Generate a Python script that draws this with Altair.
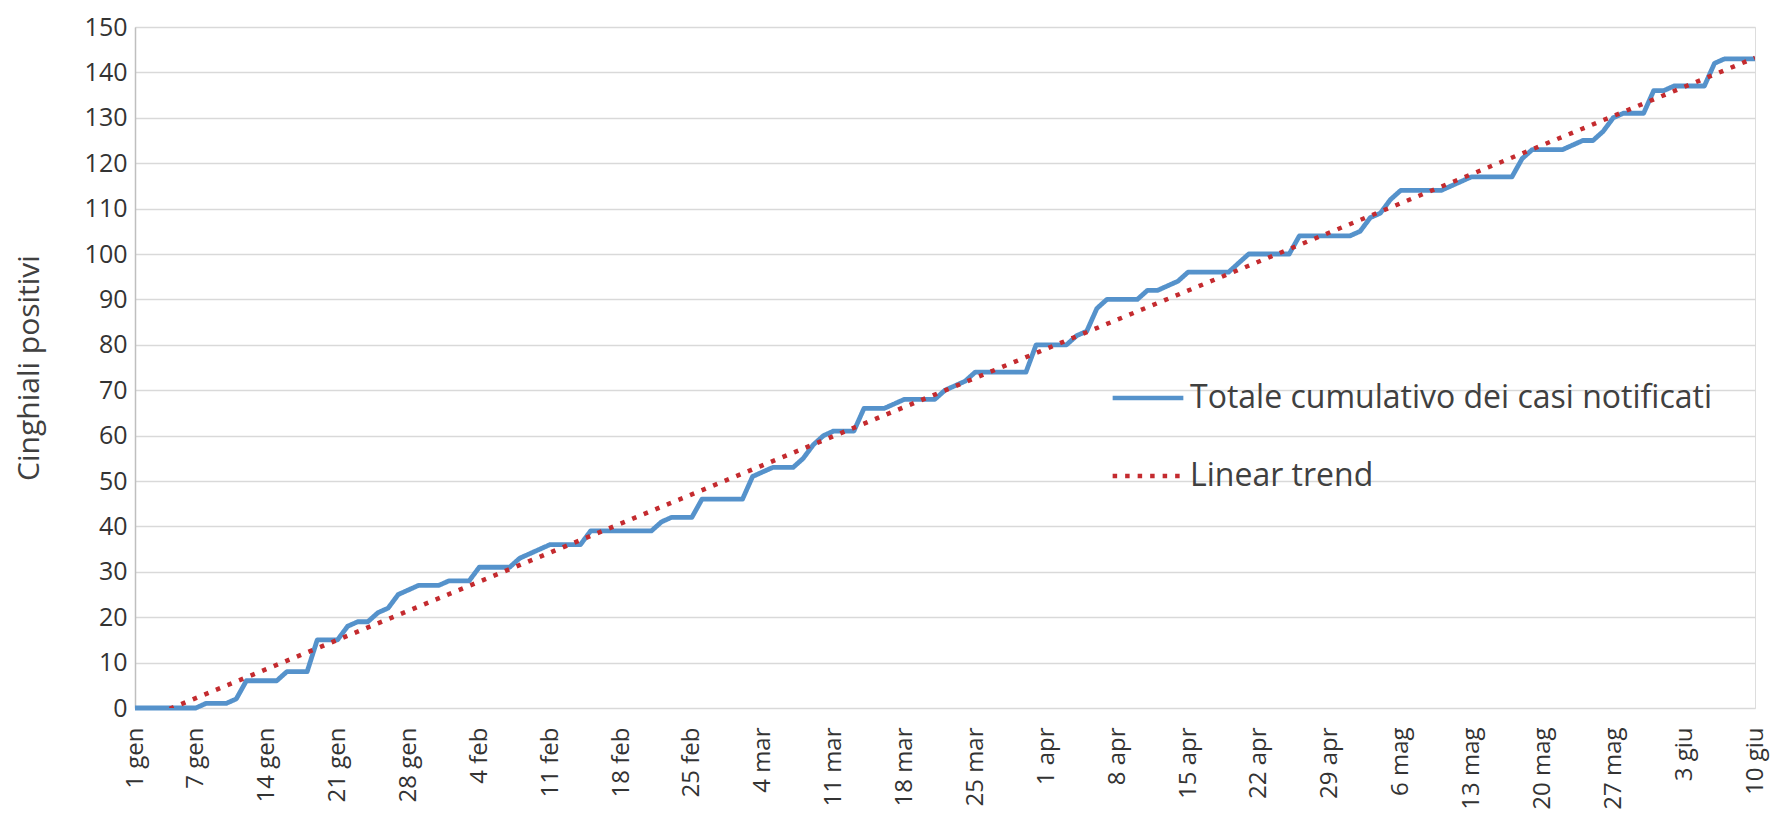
import altair as alt
import pandas as pd

# ---- data ----
START = "2022-01-01"
VALUES = (
    [0, 0, 0, 0, 0, 0, 0]            # 1-7 gen
    + [1, 1, 1, 2]
    + [6, 6, 6, 6]
    + [8, 8, 8]
    + [15, 15, 15]
    + [18, 19, 19, 21, 22, 25, 26]
    + [27, 27, 27, 28, 28, 28]
    + [31, 31, 31, 31, 33, 34, 35]
    + [36, 36, 36, 36]
    + [39, 39, 39, 39, 39, 39, 39]
    + [41, 42, 42, 42]
    + [46, 46, 46, 46, 46]
    + [51, 52, 53, 53, 53, 55, 58, 60]
    + [61, 61, 61, 66, 66, 66, 67]
    + [68, 68, 68, 68, 70, 71, 72]
    + [74, 74, 74, 74, 74, 74]
    + [80, 80, 80, 80, 82, 83, 88]
    + [90, 90, 90, 90, 92, 92, 93, 94]
    + [96, 96, 96, 96, 96, 98]
    + [100, 100, 100, 100, 100]
    + [104, 104, 104, 104, 104, 104]
    + [105, 108, 109, 112]
    + [114, 114, 114, 114, 114, 115, 116]
    + [117, 117, 117, 117, 117, 121]
    + [123, 123, 123, 123, 124, 125, 125, 127, 130]
    + [131, 131, 131, 136, 136]
    + [137, 137, 137, 137, 142]
    + [143, 143, 143, 143]
)
TICK_DATES = [
    "2022-01-01", "2022-01-07", "2022-01-14", "2022-01-21", "2022-01-28",
    "2022-02-04", "2022-02-11", "2022-02-18", "2022-02-25",
    "2022-03-04", "2022-03-11", "2022-03-18", "2022-03-25",
    "2022-04-01", "2022-04-08", "2022-04-15", "2022-04-22", "2022-04-29",
    "2022-05-06", "2022-05-13", "2022-05-20", "2022-05-27",
    "2022-06-03", "2022-06-10",
]
MONTHS = ["gen", "feb", "mar", "apr", "mag", "giu", "lug", "ago", "set", "ott", "nov", "dic"]
Y_TICKS = list(range(0, 151, 10))
SERIES = ["Totale cumulativo dei casi notificati", "Linear trend"]
COLORS = ["#5592cb", "#c42b2f"]

dates = pd.date_range(START, periods=len(VALUES), freq="D").strftime("%Y-%m-%d")
df = pd.DataFrame({"date": dates, "value": VALUES})

tick_ms = [int(pd.Timestamp(d, tz="UTC").value // 10**6) for d in TICK_DATES]
month_js = "[" + ",".join("'%s'" % m for m in MONTHS) + "]"
label_expr = "utcdate(datum.value) + ' ' + " + month_js + "[utcmonth(datum.value)]"

FONT = "Open Sans"

x_enc = alt.X(
    "date:T",
    scale=alt.Scale(type="utc", domain=[tick_ms[0], tick_ms[-1]], nice=False),
    axis=alt.Axis(
        values=tick_ms, labelExpr=label_expr, labelAngle=270,
        labelAlign="right", labelBaseline="middle", labelPadding=19,
        labelFontSize=24, labelColor="#333333", labelFont=FONT,
        grid=False, ticks=False, domain=False, title=None, labelOverlap=False,
    ),
)
y_enc = alt.Y(
    "value:Q",
    scale=alt.Scale(domain=[0, 150], nice=False),
    axis=alt.Axis(
        values=Y_TICKS, labelFontSize=25, labelColor="#333333", labelFont=FONT,
        labelPadding=8, ticks=False, domain=True, domainColor="#bfbfbf",
        domainWidth=1.5, gridColor="#d9d9d9", gridWidth=1.5,
        title="Cinghiali positivi", titleFontSize=30, titleFont=FONT,
        titleFontWeight="normal", titleColor="#404040", titlePadding=40,
    ),
)
color_enc = alt.Color(
    "series:N",
    scale=alt.Scale(domain=SERIES, range=COLORS),
    legend=alt.Legend(
        title=None, orient="none", legendX=975, legendY=333,
        symbolType="stroke", symbolSize=5000, symbolStrokeWidth=4.5,
        labelFontSize=32, labelFont=FONT, labelColor="#404040",
        labelLimit=900, rowPadding=24, labelOffset=4,
    ),
)
dash_enc = alt.StrokeDash(
    "series:N",
    scale=alt.Scale(domain=SERIES, range=[[1, 0], [4.5, 8]]),
    legend=None,
)

base = alt.Chart(df)

cum = base.mark_line(strokeWidth=4.8, strokeJoin="round").transform_calculate(
    series="'" + SERIES[0] + "'"
).encode(x=x_enc, y=y_enc, color=color_enc, strokeDash=dash_enc)

trend = base.mark_line(strokeWidth=4.5, clip=True).transform_regression(
    "date", "value"
).transform_calculate(
    series="'" + SERIES[1] + "'"
).encode(x=x_enc, y=y_enc, color=color_enc, strokeDash=dash_enc)

chart = alt.layer(cum, trend).properties(
    width=1620, height=681,
    autosize=alt.AutoSizeParams(type="none"),
    padding={"left": 127, "top": 19, "right": 16, "bottom": 114},
).configure_view(stroke=None).configure(font=FONT)

chart.save("out.html", embed_options={"renderer": "svg", "actions": False})
